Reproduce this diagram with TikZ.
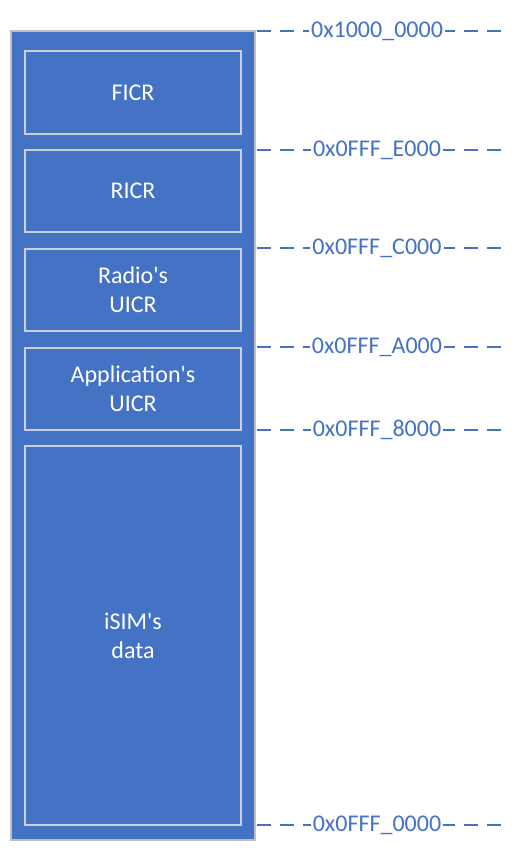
\documentclass[tikz,border=0pt]{standalone}
\usepackage{fontspec}
\setmainfont{Carlito}
\definecolor{blu}{HTML}{4472C4}
\definecolor{edge}{HTML}{BFBFBF}
\definecolor{inedge}{HTML}{C9CFDB}
\begin{document}
\begin{tikzpicture}[x=1pt,y=-1pt,
  region/.style={draw=inedge,line width=1.2pt,fill=blu,text=white,align=center,
    font=\fontsize{24}{29}\selectfont},
  addrline/.style={draw=blu,line width=1.6pt,dash pattern=on 14pt off 9pt},
  addr/.style={fill=white,text=blu,inner sep=2pt,font=\fontsize{24}{28}\selectfont}]
\useasboundingbox (0,0) rectangle (520,861);
\path[fill=white] (0,0) rectangle (520,861);
% outer block
\draw[draw=edge,line width=1.2pt,fill=blu] (11,31) rectangle (255,840);
\node[coordinate] (outer) at (133,435) {};
% regions
\node[region,minimum width=216pt,minimum height=83pt] (ficr) at (133,92.5) {FICR};
\node[region,minimum width=216pt,minimum height=82pt] (ricr) at (133,191) {RICR};
\node[region,minimum width=216pt,minimum height=82pt] (ruicr) at (133,290) {Radio\textquotesingle s\\UICR};
\node[region,minimum width=216pt,minimum height=82pt] (auicr) at (133,389) {Application\textquotesingle s\\UICR};
\node[region,minimum width=216pt,minimum height=379pt] (isim) at (133,635.5) {iSIM\textquotesingle s\\data};
% address lines
\foreach \n/\y/\xs/\lab in {a/31/257/0x1000\_0000, b/150/257/0x0FFF\_E000, c/248/257/0x0FFF\_C000,
  d/347/257/0x0FFF\_A000, e/430/257/0x0FFF\_8000, f/825/257/0x0FFF\_0000}{
  \coordinate (s\n) at (\xs,\y);
  \coordinate (e\n) at (510,\y);
  \draw[addrline] (s\n) -- (e\n);
  \node[addr] (l\n) at (377,\y) {\lab};
}
\end{tikzpicture}
\end{document}
